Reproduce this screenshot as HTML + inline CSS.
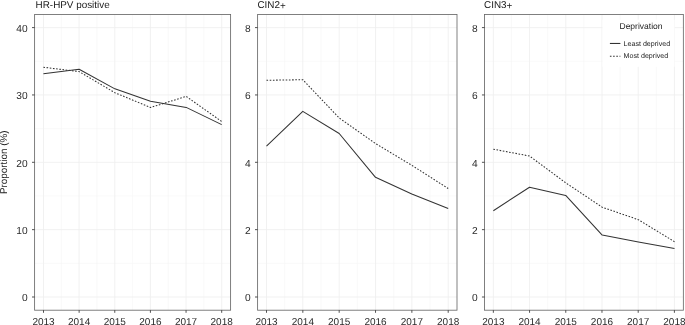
<!DOCTYPE html>
<html><head><meta charset="utf-8"><title>chart</title>
<style>
html,body{margin:0;padding:0;background:#fff;}
body{width:685px;height:325px;overflow:hidden;}
svg{display:block;will-change:transform;text-rendering:geometricPrecision;font-family:"Liberation Sans",sans-serif;}
</style></head><body>
<svg width="685" height="325" viewBox="0 0 685 325">
<rect width="685" height="325" fill="#fff"/>
<g>
<line x1="34.6" x2="230.6" y1="263.32" y2="263.32" stroke="#f5f5f5" stroke-width="0.6"/>
<line x1="34.6" x2="230.6" y1="195.98" y2="195.98" stroke="#f5f5f5" stroke-width="0.6"/>
<line x1="34.6" x2="230.6" y1="128.62" y2="128.62" stroke="#f5f5f5" stroke-width="0.6"/>
<line x1="34.6" x2="230.6" y1="61.28" y2="61.28" stroke="#f5f5f5" stroke-width="0.6"/>
<line y1="14.45" y2="310.2" x1="61.32" x2="61.32" stroke="#f5f5f5" stroke-width="0.6"/>
<line y1="14.45" y2="310.2" x1="96.96" x2="96.96" stroke="#f5f5f5" stroke-width="0.6"/>
<line y1="14.45" y2="310.2" x1="132.60" x2="132.60" stroke="#f5f5f5" stroke-width="0.6"/>
<line y1="14.45" y2="310.2" x1="168.24" x2="168.24" stroke="#f5f5f5" stroke-width="0.6"/>
<line y1="14.45" y2="310.2" x1="203.88" x2="203.88" stroke="#f5f5f5" stroke-width="0.6"/>
<line x1="34.6" x2="230.6" y1="297.00" y2="297.00" stroke="#efefef" stroke-width="0.85"/>
<line x1="34.6" x2="230.6" y1="229.65" y2="229.65" stroke="#efefef" stroke-width="0.85"/>
<line x1="34.6" x2="230.6" y1="162.30" y2="162.30" stroke="#efefef" stroke-width="0.85"/>
<line x1="34.6" x2="230.6" y1="94.95" y2="94.95" stroke="#efefef" stroke-width="0.85"/>
<line x1="34.6" x2="230.6" y1="27.60" y2="27.60" stroke="#efefef" stroke-width="0.85"/>
<line y1="14.45" y2="310.2" x1="43.50" x2="43.50" stroke="#efefef" stroke-width="0.85"/>
<line y1="14.45" y2="310.2" x1="79.14" x2="79.14" stroke="#efefef" stroke-width="0.85"/>
<line y1="14.45" y2="310.2" x1="114.78" x2="114.78" stroke="#efefef" stroke-width="0.85"/>
<line y1="14.45" y2="310.2" x1="150.42" x2="150.42" stroke="#efefef" stroke-width="0.85"/>
<line y1="14.45" y2="310.2" x1="186.06" x2="186.06" stroke="#efefef" stroke-width="0.85"/>
<line y1="14.45" y2="310.2" x1="221.70" x2="221.70" stroke="#efefef" stroke-width="0.85"/>
</g>
<g>
<line x1="257.6" x2="457.0" y1="263.32" y2="263.32" stroke="#f5f5f5" stroke-width="0.6"/>
<line x1="257.6" x2="457.0" y1="195.98" y2="195.98" stroke="#f5f5f5" stroke-width="0.6"/>
<line x1="257.6" x2="457.0" y1="128.62" y2="128.62" stroke="#f5f5f5" stroke-width="0.6"/>
<line x1="257.6" x2="457.0" y1="61.28" y2="61.28" stroke="#f5f5f5" stroke-width="0.6"/>
<line y1="14.45" y2="310.2" x1="284.67" x2="284.67" stroke="#f5f5f5" stroke-width="0.6"/>
<line y1="14.45" y2="310.2" x1="321.01" x2="321.01" stroke="#f5f5f5" stroke-width="0.6"/>
<line y1="14.45" y2="310.2" x1="357.35" x2="357.35" stroke="#f5f5f5" stroke-width="0.6"/>
<line y1="14.45" y2="310.2" x1="393.69" x2="393.69" stroke="#f5f5f5" stroke-width="0.6"/>
<line y1="14.45" y2="310.2" x1="430.03" x2="430.03" stroke="#f5f5f5" stroke-width="0.6"/>
<line x1="257.6" x2="457.0" y1="297.00" y2="297.00" stroke="#efefef" stroke-width="0.85"/>
<line x1="257.6" x2="457.0" y1="229.65" y2="229.65" stroke="#efefef" stroke-width="0.85"/>
<line x1="257.6" x2="457.0" y1="162.30" y2="162.30" stroke="#efefef" stroke-width="0.85"/>
<line x1="257.6" x2="457.0" y1="94.95" y2="94.95" stroke="#efefef" stroke-width="0.85"/>
<line x1="257.6" x2="457.0" y1="27.60" y2="27.60" stroke="#efefef" stroke-width="0.85"/>
<line y1="14.45" y2="310.2" x1="266.50" x2="266.50" stroke="#efefef" stroke-width="0.85"/>
<line y1="14.45" y2="310.2" x1="302.84" x2="302.84" stroke="#efefef" stroke-width="0.85"/>
<line y1="14.45" y2="310.2" x1="339.18" x2="339.18" stroke="#efefef" stroke-width="0.85"/>
<line y1="14.45" y2="310.2" x1="375.52" x2="375.52" stroke="#efefef" stroke-width="0.85"/>
<line y1="14.45" y2="310.2" x1="411.86" x2="411.86" stroke="#efefef" stroke-width="0.85"/>
<line y1="14.45" y2="310.2" x1="448.20" x2="448.20" stroke="#efefef" stroke-width="0.85"/>
</g>
<g>
<line x1="484.55" x2="683.35" y1="263.32" y2="263.32" stroke="#f5f5f5" stroke-width="0.6"/>
<line x1="484.55" x2="683.35" y1="195.98" y2="195.98" stroke="#f5f5f5" stroke-width="0.6"/>
<line x1="484.55" x2="683.35" y1="128.62" y2="128.62" stroke="#f5f5f5" stroke-width="0.6"/>
<line x1="484.55" x2="683.35" y1="61.28" y2="61.28" stroke="#f5f5f5" stroke-width="0.6"/>
<line y1="14.45" y2="310.2" x1="511.46" x2="511.46" stroke="#f5f5f5" stroke-width="0.6"/>
<line y1="14.45" y2="310.2" x1="547.66" x2="547.66" stroke="#f5f5f5" stroke-width="0.6"/>
<line y1="14.45" y2="310.2" x1="583.88" x2="583.88" stroke="#f5f5f5" stroke-width="0.6"/>
<line y1="14.45" y2="310.2" x1="620.09" x2="620.09" stroke="#f5f5f5" stroke-width="0.6"/>
<line y1="14.45" y2="310.2" x1="656.30" x2="656.30" stroke="#f5f5f5" stroke-width="0.6"/>
<line x1="484.55" x2="683.35" y1="297.00" y2="297.00" stroke="#efefef" stroke-width="0.85"/>
<line x1="484.55" x2="683.35" y1="229.65" y2="229.65" stroke="#efefef" stroke-width="0.85"/>
<line x1="484.55" x2="683.35" y1="162.30" y2="162.30" stroke="#efefef" stroke-width="0.85"/>
<line x1="484.55" x2="683.35" y1="94.95" y2="94.95" stroke="#efefef" stroke-width="0.85"/>
<line x1="484.55" x2="683.35" y1="27.60" y2="27.60" stroke="#efefef" stroke-width="0.85"/>
<line y1="14.45" y2="310.2" x1="493.35" x2="493.35" stroke="#efefef" stroke-width="0.85"/>
<line y1="14.45" y2="310.2" x1="529.56" x2="529.56" stroke="#efefef" stroke-width="0.85"/>
<line y1="14.45" y2="310.2" x1="565.77" x2="565.77" stroke="#efefef" stroke-width="0.85"/>
<line y1="14.45" y2="310.2" x1="601.98" x2="601.98" stroke="#efefef" stroke-width="0.85"/>
<line y1="14.45" y2="310.2" x1="638.19" x2="638.19" stroke="#efefef" stroke-width="0.85"/>
<line y1="14.45" y2="310.2" x1="674.40" x2="674.40" stroke="#efefef" stroke-width="0.85"/>
</g>
<rect x="602.5" y="19.6" width="72" height="47.2" fill="#fff"/>
<polyline points="43.4,73.7 79.1,69.3 114.9,88.85 150.5,101.3 186.2,107.4 221.7,124.6" fill="none" stroke="#333" stroke-width="1.05" stroke-linejoin="round"/>
<polyline points="43.4,67.25 79.1,71.6 114.9,92.7 150.5,107.5 186.2,96.4 221.7,121.5" fill="none" stroke="#333" stroke-width="1.05" stroke-dasharray="1.6 1.6" stroke-linejoin="round"/>
<rect x="34.6" y="14.45" width="196.00" height="295.75" fill="none" stroke="#6a6a6a" stroke-width="0.85"/>
<line x1="32.00" x2="34.6" y1="297.00" y2="297.00" stroke="#333" stroke-width="0.85"/>
<text x="27.70" y="301.20" font-size="10.2" fill="#2b2b2b" text-anchor="end">0</text>
<line x1="32.00" x2="34.6" y1="229.65" y2="229.65" stroke="#333" stroke-width="0.85"/>
<text x="27.70" y="233.85" font-size="10.2" fill="#2b2b2b" text-anchor="end">10</text>
<line x1="32.00" x2="34.6" y1="162.30" y2="162.30" stroke="#333" stroke-width="0.85"/>
<text x="27.70" y="166.50" font-size="10.2" fill="#2b2b2b" text-anchor="end">20</text>
<line x1="32.00" x2="34.6" y1="94.95" y2="94.95" stroke="#333" stroke-width="0.85"/>
<text x="27.70" y="99.15" font-size="10.2" fill="#2b2b2b" text-anchor="end">30</text>
<line x1="32.00" x2="34.6" y1="27.60" y2="27.60" stroke="#333" stroke-width="0.85"/>
<text x="27.70" y="31.80" font-size="10.2" fill="#2b2b2b" text-anchor="end">40</text>
<line y1="310.2" y2="312.80" x1="43.50" x2="43.50" stroke="#333" stroke-width="0.85"/>
<text x="43.50" y="325.0" font-size="10.0" fill="#2b2b2b" text-anchor="middle">2013</text>
<line y1="310.2" y2="312.80" x1="79.14" x2="79.14" stroke="#333" stroke-width="0.85"/>
<text x="79.14" y="325.0" font-size="10.0" fill="#2b2b2b" text-anchor="middle">2014</text>
<line y1="310.2" y2="312.80" x1="114.78" x2="114.78" stroke="#333" stroke-width="0.85"/>
<text x="114.78" y="325.0" font-size="10.0" fill="#2b2b2b" text-anchor="middle">2015</text>
<line y1="310.2" y2="312.80" x1="150.42" x2="150.42" stroke="#333" stroke-width="0.85"/>
<text x="150.42" y="325.0" font-size="10.0" fill="#2b2b2b" text-anchor="middle">2016</text>
<line y1="310.2" y2="312.80" x1="186.06" x2="186.06" stroke="#333" stroke-width="0.85"/>
<text x="186.06" y="325.0" font-size="10.0" fill="#2b2b2b" text-anchor="middle">2017</text>
<line y1="310.2" y2="312.80" x1="221.70" x2="221.70" stroke="#333" stroke-width="0.85"/>
<text x="221.70" y="325.0" font-size="10.0" fill="#2b2b2b" text-anchor="middle">2018</text>
<text x="35.6" y="7.6" font-size="9.9" fill="#1a1a1a">HR-HPV positive</text>
<polyline points="266.5,146.1 302.8,111.4 339.2,133.5 375.5,177.3 411.8,193.9 448.2,208.4" fill="none" stroke="#333" stroke-width="1.05" stroke-linejoin="round"/>
<polyline points="266.5,80.3 302.8,79.7 339.2,118.0 375.5,143.5 411.8,165.3 448.2,188.5" fill="none" stroke="#333" stroke-width="1.05" stroke-dasharray="1.6 1.6" stroke-linejoin="round"/>
<rect x="257.6" y="14.45" width="199.40" height="295.75" fill="none" stroke="#6a6a6a" stroke-width="0.85"/>
<line x1="255.00" x2="257.6" y1="297.00" y2="297.00" stroke="#333" stroke-width="0.85"/>
<text x="250.70" y="301.20" font-size="10.2" fill="#2b2b2b" text-anchor="end">0</text>
<line x1="255.00" x2="257.6" y1="229.65" y2="229.65" stroke="#333" stroke-width="0.85"/>
<text x="250.70" y="233.85" font-size="10.2" fill="#2b2b2b" text-anchor="end">2</text>
<line x1="255.00" x2="257.6" y1="162.30" y2="162.30" stroke="#333" stroke-width="0.85"/>
<text x="250.70" y="166.50" font-size="10.2" fill="#2b2b2b" text-anchor="end">4</text>
<line x1="255.00" x2="257.6" y1="94.95" y2="94.95" stroke="#333" stroke-width="0.85"/>
<text x="250.70" y="99.15" font-size="10.2" fill="#2b2b2b" text-anchor="end">6</text>
<line x1="255.00" x2="257.6" y1="27.60" y2="27.60" stroke="#333" stroke-width="0.85"/>
<text x="250.70" y="31.80" font-size="10.2" fill="#2b2b2b" text-anchor="end">8</text>
<line y1="310.2" y2="312.80" x1="266.50" x2="266.50" stroke="#333" stroke-width="0.85"/>
<text x="266.50" y="325.0" font-size="10.0" fill="#2b2b2b" text-anchor="middle">2013</text>
<line y1="310.2" y2="312.80" x1="302.84" x2="302.84" stroke="#333" stroke-width="0.85"/>
<text x="302.84" y="325.0" font-size="10.0" fill="#2b2b2b" text-anchor="middle">2014</text>
<line y1="310.2" y2="312.80" x1="339.18" x2="339.18" stroke="#333" stroke-width="0.85"/>
<text x="339.18" y="325.0" font-size="10.0" fill="#2b2b2b" text-anchor="middle">2015</text>
<line y1="310.2" y2="312.80" x1="375.52" x2="375.52" stroke="#333" stroke-width="0.85"/>
<text x="375.52" y="325.0" font-size="10.0" fill="#2b2b2b" text-anchor="middle">2016</text>
<line y1="310.2" y2="312.80" x1="411.86" x2="411.86" stroke="#333" stroke-width="0.85"/>
<text x="411.86" y="325.0" font-size="10.0" fill="#2b2b2b" text-anchor="middle">2017</text>
<line y1="310.2" y2="312.80" x1="448.20" x2="448.20" stroke="#333" stroke-width="0.85"/>
<text x="448.20" y="325.0" font-size="10.0" fill="#2b2b2b" text-anchor="middle">2018</text>
<text x="257.4" y="7.6" font-size="9.9" fill="#1a1a1a">CIN2<tspan dy="1.1">+</tspan></text>
<polyline points="493.35,210.7 529.5,187.3 565.7,195.4 602.2,235.05 638.4,242.1 674.5,248.6" fill="none" stroke="#333" stroke-width="1.05" stroke-linejoin="round"/>
<polyline points="493.35,149.2 529.5,156.0 565.7,182.8 602.2,207.2 638.4,219.7 674.5,241.7" fill="none" stroke="#333" stroke-width="1.05" stroke-dasharray="1.6 1.6" stroke-linejoin="round"/>
<rect x="484.55" y="14.45" width="198.80" height="295.75" fill="none" stroke="#6a6a6a" stroke-width="0.85"/>
<line x1="481.95" x2="484.55" y1="297.00" y2="297.00" stroke="#333" stroke-width="0.85"/>
<text x="477.65" y="301.20" font-size="10.2" fill="#2b2b2b" text-anchor="end">0</text>
<line x1="481.95" x2="484.55" y1="229.65" y2="229.65" stroke="#333" stroke-width="0.85"/>
<text x="477.65" y="233.85" font-size="10.2" fill="#2b2b2b" text-anchor="end">2</text>
<line x1="481.95" x2="484.55" y1="162.30" y2="162.30" stroke="#333" stroke-width="0.85"/>
<text x="477.65" y="166.50" font-size="10.2" fill="#2b2b2b" text-anchor="end">4</text>
<line x1="481.95" x2="484.55" y1="94.95" y2="94.95" stroke="#333" stroke-width="0.85"/>
<text x="477.65" y="99.15" font-size="10.2" fill="#2b2b2b" text-anchor="end">6</text>
<line x1="481.95" x2="484.55" y1="27.60" y2="27.60" stroke="#333" stroke-width="0.85"/>
<text x="477.65" y="31.80" font-size="10.2" fill="#2b2b2b" text-anchor="end">8</text>
<line y1="310.2" y2="312.80" x1="493.35" x2="493.35" stroke="#333" stroke-width="0.85"/>
<text x="493.35" y="325.0" font-size="10.0" fill="#2b2b2b" text-anchor="middle">2013</text>
<line y1="310.2" y2="312.80" x1="529.56" x2="529.56" stroke="#333" stroke-width="0.85"/>
<text x="529.56" y="325.0" font-size="10.0" fill="#2b2b2b" text-anchor="middle">2014</text>
<line y1="310.2" y2="312.80" x1="565.77" x2="565.77" stroke="#333" stroke-width="0.85"/>
<text x="565.77" y="325.0" font-size="10.0" fill="#2b2b2b" text-anchor="middle">2015</text>
<line y1="310.2" y2="312.80" x1="601.98" x2="601.98" stroke="#333" stroke-width="0.85"/>
<text x="601.98" y="325.0" font-size="10.0" fill="#2b2b2b" text-anchor="middle">2016</text>
<line y1="310.2" y2="312.80" x1="638.19" x2="638.19" stroke="#333" stroke-width="0.85"/>
<text x="638.19" y="325.0" font-size="10.0" fill="#2b2b2b" text-anchor="middle">2017</text>
<line y1="310.2" y2="312.80" x1="674.40" x2="674.40" stroke="#333" stroke-width="0.85"/>
<text x="674.40" y="325.0" font-size="10.0" fill="#2b2b2b" text-anchor="middle">2018</text>
<text x="484.0" y="7.6" font-size="9.9" fill="#1a1a1a">CIN3<tspan dy="1.1">+</tspan></text>
<text transform="translate(7.3,162.2) rotate(-90)" font-size="9.9" fill="#1a1a1a" text-anchor="middle">Proportion (%)</text>
<text x="641" y="29.2" font-size="8.5" fill="#1a1a1a" text-anchor="middle">Deprivation</text>
<line x1="609.9" x2="620.4" y1="43.45" y2="43.45" stroke="#333" stroke-width="1.05"/>
<line x1="609.9" x2="620.4" y1="56.3" y2="56.3" stroke="#333" stroke-width="1.05" stroke-dasharray="1.6 1.6"/>
<text x="623.6" y="45.9" font-size="7.1" fill="#1a1a1a">Least deprived</text>
<text x="623.6" y="57.6" font-size="7.1" fill="#1a1a1a">Most deprived</text>
</svg></body></html>
